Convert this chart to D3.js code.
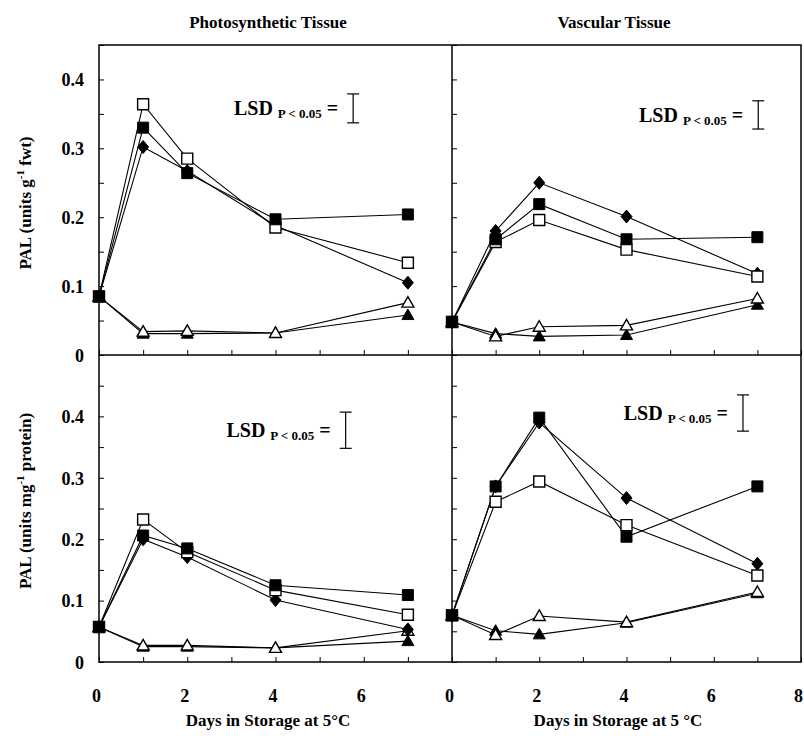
<!DOCTYPE html>
<html>
<head>
<meta charset="utf-8">
<script src="https://cdn.jsdelivr.net/npm/d3@7/dist/d3.min.js"></script>
<style>
body { margin: 0; background: #fff; }
text { font-family: "Liberation Serif", "Times New Roman", serif; font-weight: bold; fill: #000; }
</style>
</head>
<body>
<svg id="chart" width="804" height="736"></svg>
<script>
// days sampled, same for every panel
var days = [0, 1, 2, 4, 7];
// series in drawing order (last one ends up on top)
var seriesKeys = ['filledTriangle', 'openTriangle', 'diamond', 'openSquare', 'filledSquare'];

// PAL, units g-1 fwt
var photoFwt = [
    [0.085, 0.031, 0.031, 0.032, 0.058],
    [0.085, 0.034, 0.035, 0.032, 0.076],
    [0.085, 0.302, 0.267, 0.188, 0.105],
    [0.085, 0.364, 0.285, 0.185, 0.134],
    [0.085, 0.330, 0.264, 0.197, 0.204]
];
var vascFwt = [
    [0.048, 0.031, 0.027, 0.029, 0.073],
    [0.048, 0.027, 0.041, 0.043, 0.082],
    [0.048, 0.180, 0.250, 0.201, 0.118],
    [0.048, 0.164, 0.196, 0.153, 0.114],
    [0.048, 0.168, 0.219, 0.168, 0.171]
];
// PAL, units mg-1 protein
var photoProtein = [
    [0.057, 0.025, 0.025, 0.023, 0.034],
    [0.057, 0.027, 0.027, 0.023, 0.051],
    [0.057, 0.200, 0.171, 0.101, 0.053],
    [0.057, 0.232, 0.179, 0.117, 0.077],
    [0.057, 0.206, 0.185, 0.125, 0.109]
];
var vascProtein = [
    [0.076, 0.051, 0.045, 0.064, 0.112],
    [0.076, 0.044, 0.075, 0.065, 0.114],
    [0.076, 0.286, 0.390, 0.267, 0.160],
    [0.076, 0.261, 0.294, 0.223, 0.141],
    [0.076, 0.286, 0.398, 0.204, 0.286]
];
// LSD (P < 0.05) bar lengths, same order as panels
var lsdValues = [0.042, 0.041, 0.059, 0.059];

var xTickValues = [0, 1, 2, 3, 4, 5, 6, 7, 8];
var columnTitles = ['Photosynthetic Tissue', 'Vascular Tissue'];
var xTitles = ['Days in Storage at 5°C', 'Days in Storage at 5 °C'];

var LEFT = 99, MID_X = 452, RIGHT = 801;
var TOP = 45, MID_Y = 355, BOTTOM = 662;
var MARK = 12;

var panels = [
    { data: photoFwt, x: [LEFT, MID_X], y: [MID_Y, TOP], yMax: 0.45, yLabels: true, xLabels: false, lsd: { day: 5.76, top: 0.379 } },
    { data: vascFwt, x: [MID_X, RIGHT], y: [MID_Y, TOP], yMax: 0.45, yLabels: false, xLabels: false, lsd: { day: 7.02, top: 0.369 } },
    { data: photoProtein, x: [LEFT, MID_X], y: [BOTTOM, MID_Y], yMax: 0.5, yLabels: true, xLabels: true, lsd: { day: 5.59, top: 0.407 } },
    { data: vascProtein, x: [MID_X, RIGHT], y: [BOTTOM, MID_Y], yMax: 0.5, yLabels: false, xLabels: true, lsd: { day: 6.67, top: 0.435 } }
];

var svg = d3.select('#chart');

function markerPath(key) {
    var h = MARK / 2;
    if (key.indexOf('Square') >= 0) {
        h = h - 0.5;
        return 'M' + -h + ',' + -h + 'H' + h + 'V' + h + 'H' + -h + 'Z';
    }
    if (key == 'diamond') {
        return 'M0,' + (-h - 0.5) + 'L' + (h - 0.5) + ',0L0,' + (h + 0.5) + 'L' + (-h + 0.5) + ',0Z';
    }
    // triangle
    return 'M0,' + (-h) + 'L' + (h) + ',' + (h - 1.5) + 'L' + (-h) + ',' + (h - 1.5) + 'Z';
}

panels.forEach(function (p, pi) {
    var x = d3.scaleLinear().domain([0, 8]).range(p.x);
    var y = d3.scaleLinear().domain([0, p.yMax]).range(p.y);
    var g = svg.append('g');

    // y axis, inward ticks
    var yAxis = d3.axisLeft(y)
        .tickValues(d3.range(0, p.yMax + 0.001, 0.05))
        .tickSize(-5)
        .tickPadding(15)
        .tickFormat(function (d) {
            if (!p.yLabels) return '';
            var r = Math.round(d * 100);
            if (r % 10 != 0 || r > 40) return '';
            return r == 0 ? '0' : d3.format('.1f')(d);
        });
    var ya = g.append('g').attr('transform', 'translate(' + p.x[0] + ',0)').call(yAxis);
    ya.select('.domain').remove();
    ya.selectAll('line').attr('stroke', '#000').attr('stroke-width', 1);
    ya.selectAll('text').attr('font-size', 18).attr('dy', '0.35em');

    // x axis, inward ticks
    var xAxis = d3.axisBottom(x)
        .tickValues(xTickValues)
        .tickSize(-5)
        .tickPadding(27)
        .tickFormat(function (d) {
            if (!p.xLabels || d % 2 != 0) return '';
            if (d == 8 && p.x[1] == MID_X) return '';
            return d;
        });
    var xa = g.append('g').attr('transform', 'translate(0,' + p.y[0] + ')').call(xAxis);
    xa.select('.domain').remove();
    xa.selectAll('line').attr('stroke', '#000').attr('stroke-width', 1);
    xa.selectAll('text').attr('font-size', 18).attr('dx', -3);

    var line = d3.line()
        .x(function (d, i) { return x(days[i]); })
        .y(function (d) { return y(d); });

    g.selectAll('path.series').data(p.data).enter().append('path')
        .attr('class', 'series')
        .attr('d', line)
        .attr('fill', 'none')
        .attr('stroke', '#000')
        .attr('stroke-width', 1.1);

    p.data.forEach(function (vals, si) {
        var key = seriesKeys[si];
        var open = key.indexOf('open') == 0;
        g.selectAll('path.m' + si).data(vals).enter().append('path')
            .attr('class', 'm' + si)
            .attr('transform', function (d, i) { return 'translate(' + x(days[i]) + ',' + y(d) + ')'; })
            .attr('d', markerPath(key))
            .attr('fill', open ? '#fff' : '#000')
            .attr('stroke', '#000')
            .attr('stroke-width', open ? 1.4 : 1);
    });

    // LSD bar and label
    var bx = x(p.lsd.day);
    var by0 = y(p.lsd.top);
    var by1 = y(p.lsd.top - lsdValues[pi]);
    var lsdG = g.append('g').attr('stroke', '#000').attr('stroke-width', 1.2);
    lsdG.append('line').attr('x1', bx).attr('x2', bx).attr('y1', by0).attr('y2', by1);
    lsdG.append('line').attr('x1', bx - 6).attr('x2', bx + 6).attr('y1', by0).attr('y2', by0);
    lsdG.append('line').attr('x1', bx - 6).attr('x2', bx + 6).attr('y1', by1).attr('y2', by1);

    var t = g.append('text')
        .attr('x', bx - 15)
        .attr('y', (by0 + by1) / 2 + 7)
        .attr('text-anchor', 'end');
    t.append('tspan').attr('font-size', 20).text('LSD ');
    t.append('tspan').attr('font-size', 13).attr('dy', 3).text('P < 0.05');
    t.append('tspan').attr('font-size', 20).attr('dy', -3).text(' =');
});

// frame
var frame = svg.append('g').attr('stroke', '#000').attr('stroke-width', 1.5).attr('fill', 'none');
frame.append('rect').attr('x', LEFT).attr('y', TOP).attr('width', RIGHT - LEFT).attr('height', BOTTOM - TOP);
frame.append('line').attr('x1', LEFT).attr('x2', RIGHT).attr('y1', MID_Y).attr('y2', MID_Y);
frame.append('line').attr('x1', MID_X).attr('x2', MID_X).attr('y1', TOP).attr('y2', BOTTOM);

// column titles
svg.selectAll('text.col').data(columnTitles).enter().append('text')
    .attr('class', 'col')
    .attr('x', function (d, i) { return i == 0 ? 268 : 614; })
    .attr('y', 28)
    .attr('text-anchor', 'middle')
    .attr('font-size', 17)
    .text(function (d) { return d; });

// x titles
svg.selectAll('text.xt').data(xTitles).enter().append('text')
    .attr('class', 'xt')
    .attr('x', function (d, i) { return i == 0 ? 268 : 618; })
    .attr('y', 726)
    .attr('text-anchor', 'middle')
    .attr('font-size', 17)
    .text(function (d) { return d; });

// y titles with superscript
function yTitle(cy, unit, rest) {
    var t = svg.append('text')
        .attr('transform', 'translate(31,' + cy + ') rotate(-90)')
        .attr('text-anchor', 'middle')
        .attr('font-size', 17);
    t.append('tspan').text('PAL (units ' + unit);
    t.append('tspan').attr('font-size', 11).attr('dy', -7).text('-1');
    t.append('tspan').attr('dy', 7).text(' ' + rest + ')');
}
yTitle(203, 'g', 'fwt');
yTitle(501, 'mg', 'protein');
</script>
</body>
</html>
